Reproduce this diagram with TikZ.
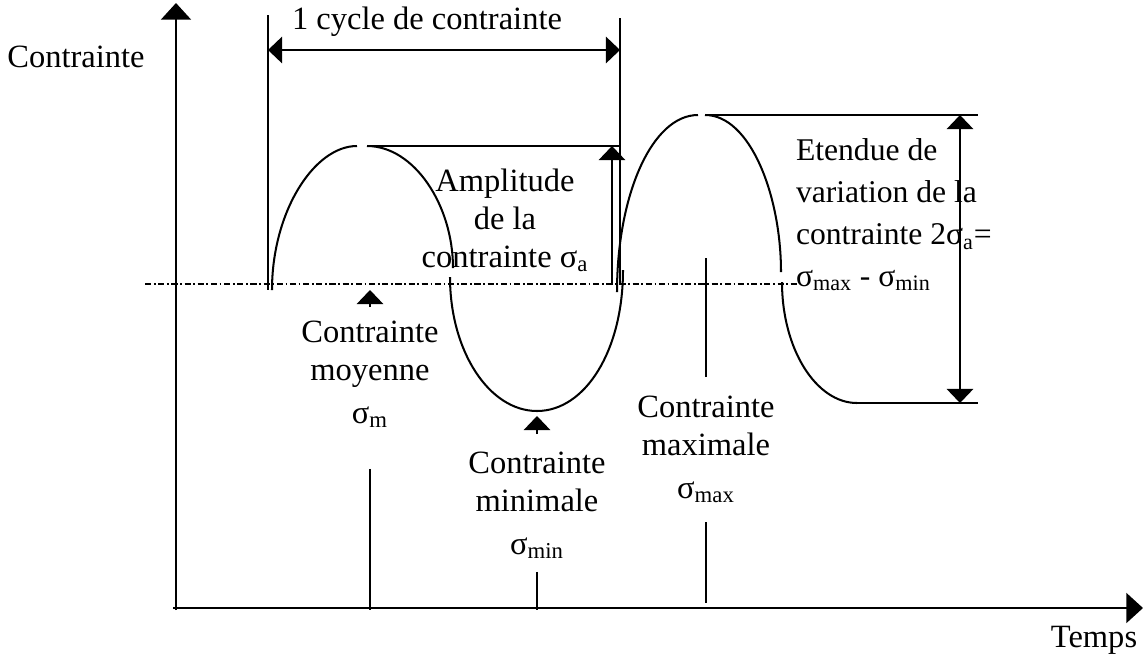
\documentclass[tikz,border=0pt]{standalone}
\usepackage{fontspec}
\setmainfont{Liberation Serif}
\usetikzlibrary{positioning,calc,arrows.meta}
\newcommand{\sig}[1]{σ\textsubscript{#1}}

\begin{document}
\begin{tikzpicture}[x=0.02cm,y=-0.02cm,line width=1.15pt,
	lbl/.style={font=\fontsize{18.5}{21.5}\selectfont, inner sep=0pt, align=center},
	big/.style={-{Triangle[width=17pt,length=9.5pt]}},
	tip/.style={-{Triangle[width=15pt,length=8pt]}},
	both/.style={{Triangle[width=15pt,length=8pt]}-{Triangle[width=15pt,length=8pt]}},
	mean/.style={line width=0.8pt, dash pattern=on 3.5pt off 1.5pt on 1pt off 1.5pt}]
	\useasboundingbox (0,0) rectangle (1143,657);
	% axes
	\coordinate (o) at (176,610);
	\draw[big, line width=1.4pt] (o) -- (176,3) coordinate (ytop);
	\draw[big, line width=1.4pt] (173,608) -- (1143,608) coordinate (xend);
	\node[lbl] (ylab) at (76,57) {Contrainte};
	\node[lbl] (xlab) at (1094,640) {Temps};
	% mean line
	\draw[mean] (145,284) -- (797,284);
	% signal
	\draw (272,290) .. controls (272,212) and (314,146) .. (357,146);
	\draw (367,146) .. controls (414,146) and (453,205) .. (453,268);
	\draw (450,277) .. controls (450,351) and (489,411) .. (537,411) .. controls (585,411) and (623,351) .. (623,270);
	\draw (617,292) .. controls (617,195) and (652,115) .. (698,115);
	\draw (705,115) .. controls (750,115) and (781,195) .. (781,272);
	\draw (782,282) .. controls (782,349) and (816,403) .. (857,403);
	% cycle
	\draw (268,15) -- (268,290);
	\draw (620,18) -- (620,285);
	\coordinate (c1) at (268,50);
	\coordinate (c2) at (620,50);
	\draw[both] (c1) -- (c2);
	\node[lbl] (cyc) at (427,22) {1 cycle de contrainte};
	% amplitude
	\draw (367,146) -- (620,146);
	\draw[tip] (612,285) -- (612,146);
	\node[lbl, anchor=north] (amp) at (505,168) {Amplitude\\de la\\contrainte \sig{a}};
	% range
	\draw (705,115) -- (978,115) coordinate (rtop);
	\draw (855,403) -- (978,403) coordinate (rbot);
	\draw[both] (rtop -| 960,0) -- (rbot -| 960,0);
	\node[lbl, anchor=north west, align=left, font=\fontsize{18}{23.8}\selectfont] (rng) at (795,138)
		{Etendue de\\variation de la\\contrainte 2\sig{a}=\\\sig{max} - \sig{min}};
	% labels
	\node[lbl, anchor=north] (moy) at (370,320) {Contrainte\\moyenne\\[3pt]\sig{m}};
	\draw[tip] (370,307) -- (370,290);
	\draw (moy.south) ++(0,40) -- (moy.south |- o);
	\node[lbl, anchor=north] (min) at (537,451) {Contrainte\\minimale\\[3pt]\sig{min}};
	\draw[tip] (537,434) -- (537,416);
	\draw (min.south) ++(0,12) -- (min.south |- o);
	\node[lbl, anchor=north] (max) at (706,395) {Contrainte\\maximale\\[3pt]\sig{max}};
	\draw (max.north) ++(0,-18) -- (706,258);
	\draw (max.south) ++(0,18) -- (706,603);
\end{tikzpicture}
\end{document}
